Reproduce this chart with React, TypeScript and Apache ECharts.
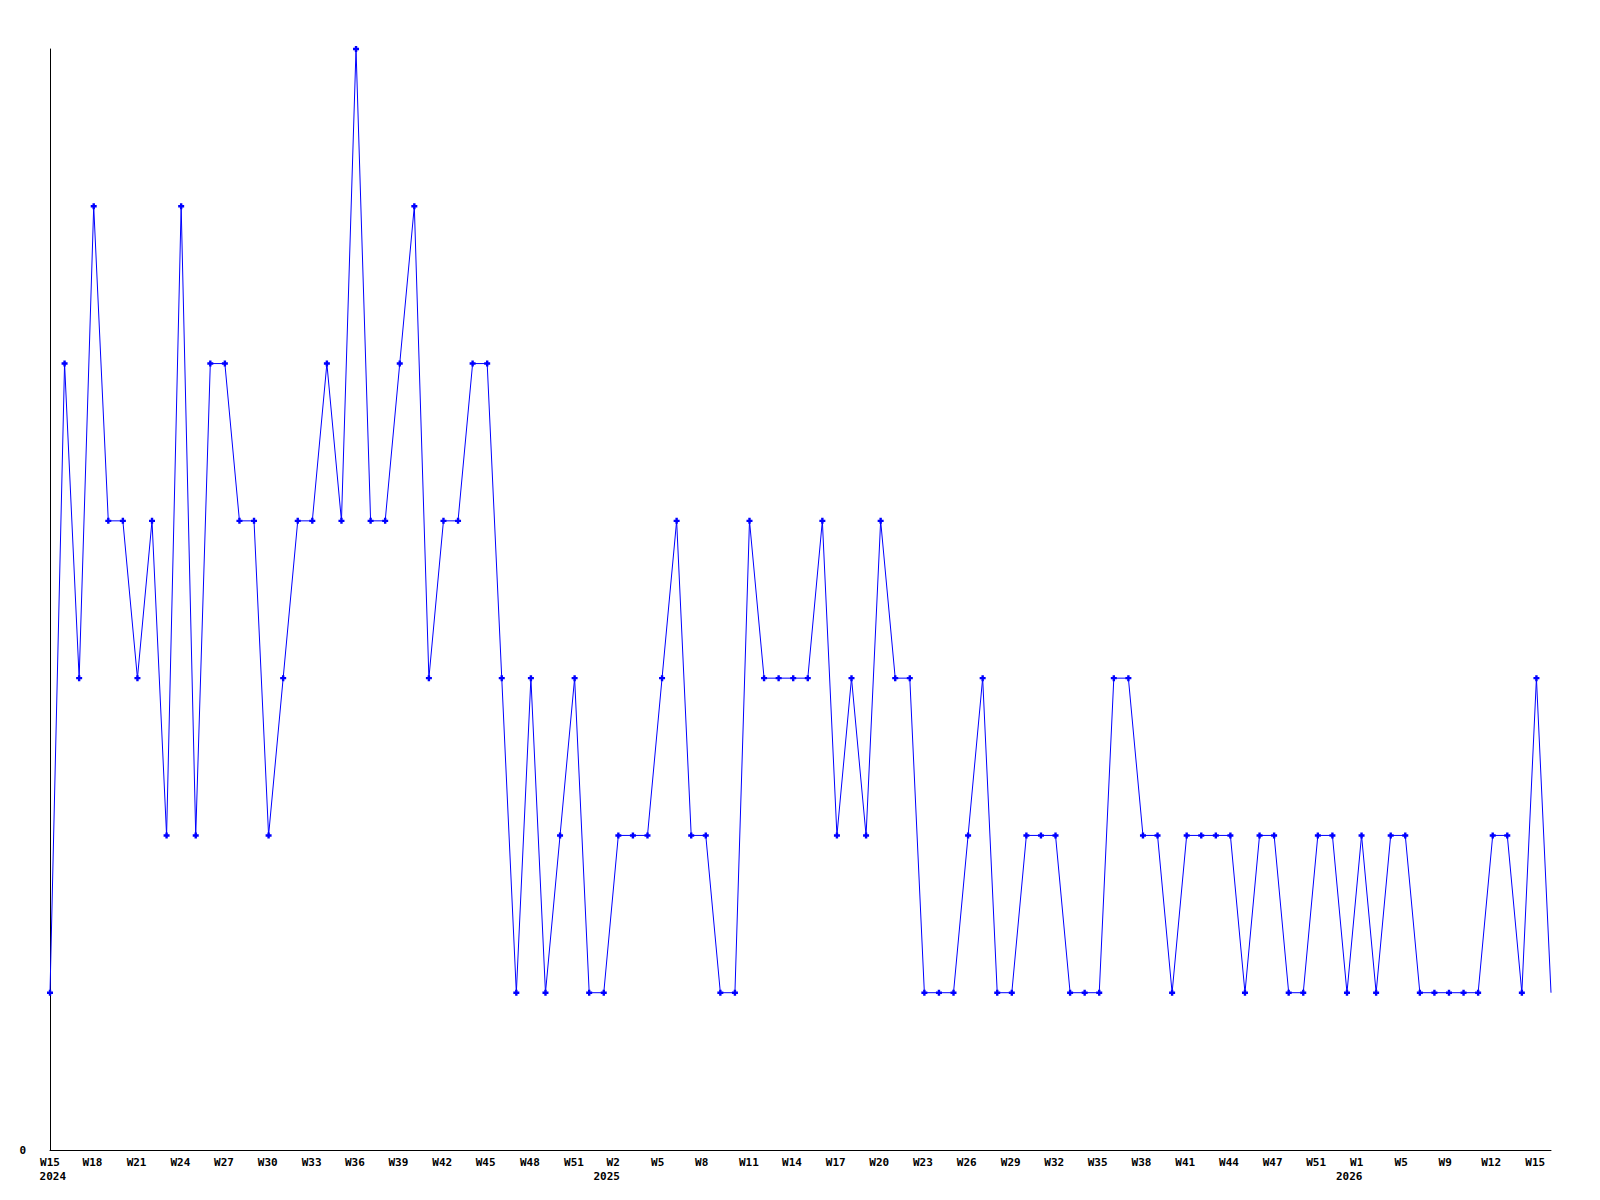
import React, { useEffect, useRef } from "react";
import * as echarts from "echarts";

// Weekly counts, one per week from W15 2024 (index 0) onward
const values: number[] = [
  1, 5, 3, 6, 4, 4, 3, 4, 2, 6,
  2, 5, 5, 4, 4, 2, 3, 4, 4, 5,
  4, 7, 4, 4, 5, 6, 3, 4, 4, 5,
  5, 3, 1, 3, 1, 2, 3, 1, 1, 2,
  2, 2, 3, 4, 2, 2, 1, 1, 4, 3,
  3, 3, 3, 4, 2, 3, 2, 4, 3, 3,
  1, 1, 1, 2, 3, 1, 1, 2, 2, 2,
  1, 1, 1, 3, 3, 2, 2, 1, 2, 2,
  2, 2, 1, 2, 2, 1, 1, 2, 2, 1,
  2, 1, 2, 2, 1, 1, 1, 1, 1, 2,
  2, 1, 3, 1,
];

// Week tick label positions (in week-index units) and texts
const xLabelPos: number[] = [
  0, 2.92, 5.94, 8.95, 11.94, 14.94, 17.95, 20.92, 23.91, 26.92, 29.89, 32.93,
  35.96, 38.65, 41.7, 44.72, 47.96, 50.92, 53.92, 56.9, 59.9, 62.91, 65.93,
  68.91, 71.89, 74.9, 77.9, 80.9, 83.9, 86.88, 89.67, 92.72, 95.74, 98.89,
  101.92,
];
const xLabelText: string[] = [
  "W15", "W18", "W21", "W24", "W27", "W30", "W33", "W36", "W39", "W42",
  "W45", "W48", "W51", "W2", "W5", "W8", "W11", "W14", "W17", "W20",
  "W23", "W26", "W29", "W32", "W35", "W38", "W41", "W44", "W47", "W51",
  "W1", "W5", "W9", "W12", "W15",
];

// Year label positions (week-index units) and texts
const yearPos: number[] = [0.19, 38.2, 89.15];
const yearText: string[] = ["2024", "2025", "2026"];

const FONT = "'DejaVu Sans Mono', monospace";

const labelStyle = {
  fontFamily: FONT,
  fontWeight: "bold",
  fontSize: 11,
  lineHeight: 14,
  color: "#000",
};

export default function App() {
  const ref = useRef<HTMLDivElement>(null);
  useEffect(() => {
    if (!ref.current) return;
    const chart = echarts.init(ref.current, null, { renderer: "svg" });
    const lastIdx = values.length - 1;
    const data = values.map((v, i) =>
      i === lastIdx ? { value: [i, v], symbol: "none" } : { value: [i, v] }
    );
    const lookup = (pos: number[], txt: string[]) => (val: number) => {
      const k = pos.findIndex((p) => Math.abs(p - val) < 1e-6);
      return k >= 0 ? txt[k] : "";
    };
    chart.setOption({
      animation: false,
      backgroundColor: "#ffffff",
      grid: { left: 50, right: 49, top: 49, bottom: 50 },
      xAxis: [
        {
          type: "value",
          min: 0,
          max: values.length - 1,
          axisLine: { show: true, lineStyle: { color: "#000", width: 1 } },
          axisTick: { show: false },
          splitLine: { show: false },
          axisLabel: {
            ...labelStyle,
            customValues: xLabelPos,
            margin: 5,
            formatter: lookup(xLabelPos, xLabelText),
          },
        },
        {
          type: "value",
          position: "bottom",
          min: 0,
          max: values.length - 1,
          axisLine: { show: false },
          axisTick: { show: false },
          splitLine: { show: false },
          axisLabel: {
            ...labelStyle,
            customValues: yearPos,
            margin: 19,
            formatter: lookup(yearPos, yearText),
          },
        },
      ],
      yAxis: {
        type: "value",
        min: 0,
        max: 7,
        interval: 1,
        axisLine: { show: true, lineStyle: { color: "#000", width: 1 } },
        axisTick: { show: false },
        splitLine: { show: false },
        axisLabel: {
          margin: 24,
          fontFamily: FONT,
          fontWeight: "bold",
          fontSize: 11,
          color: "#000",
          formatter: (v: number) => (v === 0 ? "0" : ""),
        },
      },
      series: [
        {
          type: "line",
          data,
          xAxisIndex: 0,
          symbol: "path://M1.5,0h2v1.5h1.5v2h-1.5v1.5h-2v-1.5h-1.5v-2h1.5z",
          symbolSize: 6,
          showAllSymbol: true,
          lineStyle: { color: "#0000ff", width: 1 },
          itemStyle: { color: "#0000ff" },
          emphasis: { disabled: true },
        },
      ],
    });
    return () => chart.dispose();
  }, []);
  return (
    <div
      ref={ref}
      style={{ position: "fixed", left: 0, top: 0, width: 1600, height: 1200 }}
    />
  );
}
